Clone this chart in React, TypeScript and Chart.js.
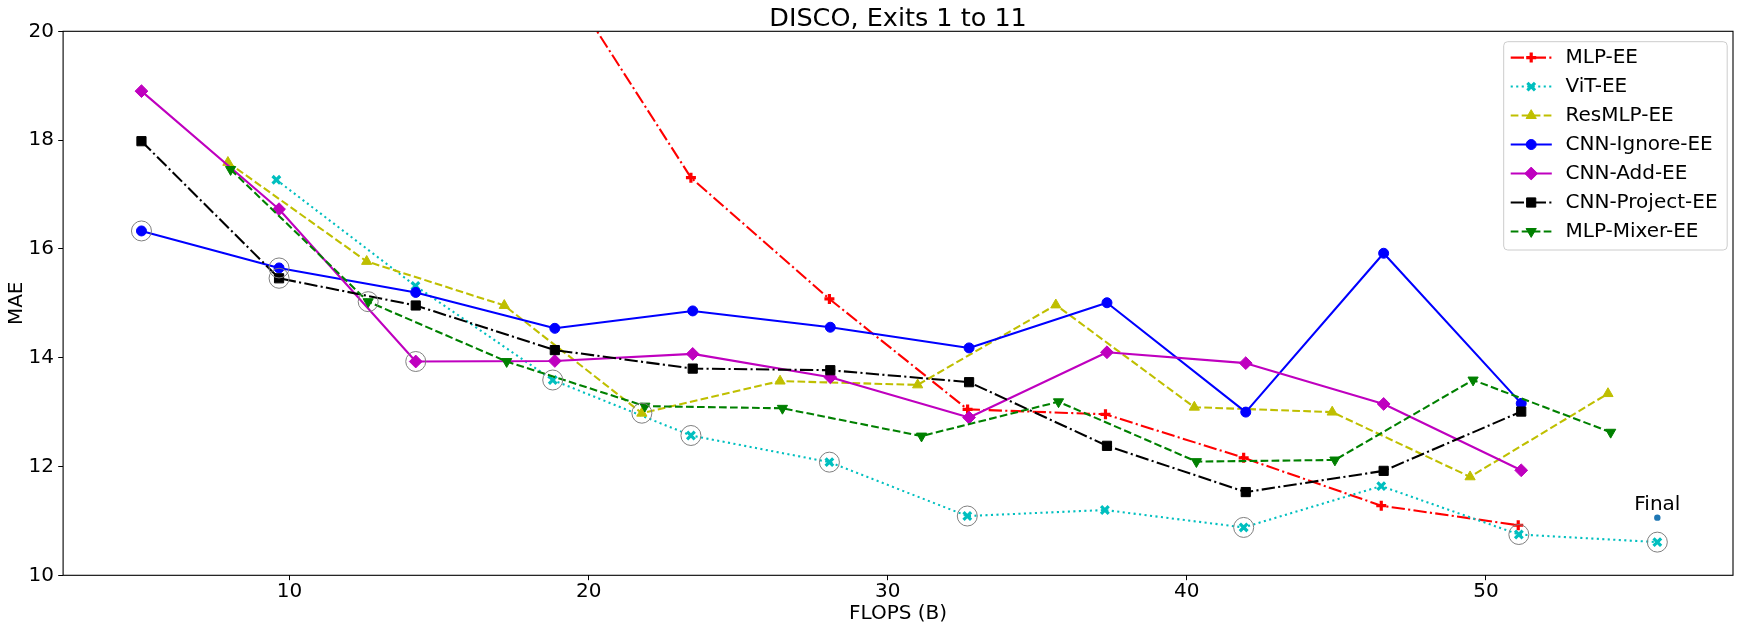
import React, { useEffect, useRef } from 'react';
import { Chart, registerables } from 'chart.js';
import { drawPoint } from 'chart.js/helpers';

Chart.register(...registerables);

const TITLE = 'DISCO, Exits 1 to 11';
const X_LABEL = 'FLOPS (B)';
const Y_LABEL = 'MAE';
const FINAL_LABEL = 'Final';
const X_TICKS = [10, 20, 30, 40, 50];
const Y_TICKS = [10, 12, 14, 16, 18, 20];
const X_MIN = 2.43;
const X_MAX = 58.26;
const Y_MIN = 10;
const Y_MAX = 20;

const SERIES_NAMES = ['MLP-EE', 'ViT-EE', 'ResMLP-EE', 'CNN-Ignore-EE', 'CNN-Add-EE', 'CNN-Project-EE', 'MLP-Mixer-EE'];

const mlpEeX = [18.8, 23.42, 28.05, 32.67, 37.28, 41.9, 46.5, 51.08];
const mlpEeY = [21.27, 17.31, 15.08, 13.05, 12.96, 12.16, 11.28, 10.92];

const vitEeX = [9.56, 14.21, 18.8, 23.42, 28.05, 32.66, 37.26, 41.9, 46.5, 51.1, 55.73];
const vitEeY = [17.27, 15.32, 13.59, 12.57, 12.08, 11.09, 11.2, 10.88, 11.64, 10.75, 10.61];

const resMlpX = [7.94, 12.58, 17.18, 21.78, 26.4, 31.0, 35.62, 40.25, 44.86, 49.47, 54.08];
const resMlpY = [17.59, 15.77, 14.96, 12.98, 13.57, 13.5, 14.97, 13.09, 13.0, 11.81, 13.34];

const cnnX = [5.05, 9.65, 14.22, 18.87, 23.48, 28.08, 32.72, 37.33, 41.97, 46.58, 51.18];
const cnnIgnoreY = [16.33, 15.65, 15.2, 14.54, 14.86, 14.56, 14.18, 15.01, 13.0, 15.92, 13.16];
const cnnAddY = [18.9, 16.73, 13.93, 13.94, 14.07, 13.64, 12.9, 14.1, 13.9, 13.15, 11.93];
const cnnProjectY = [17.98, 15.46, 14.96, 14.14, 13.8, 13.77, 13.55, 12.38, 11.53, 11.92, 13.01];

const mixerX = [8.03, 12.63, 17.26, 21.88, 26.48, 31.13, 35.71, 40.32, 44.95, 49.57, 54.17];
const mixerY = [17.46, 15.03, 13.93, 13.11, 13.07, 12.56, 13.19, 12.09, 12.12, 13.59, 12.63];

const paretoX = [5.05, 9.65, 9.65, 12.63, 14.22, 18.8, 21.78, 23.42, 28.05, 32.66, 41.9, 51.1, 55.73];
const paretoY = [16.33, 15.65, 15.46, 15.03, 13.93, 13.59, 12.98, 12.57, 12.08, 11.09, 10.88, 10.75, 10.61];

const finalX = [55.73];
const finalY = [11.06];

const FONT = '"DejaVu Sans", "Liberation Sans", sans-serif';
const TXT = 20;
const LW = 2.08;
const DASHDOT = [13.3, 3.3, 2.1, 3.3];
const DASHED = [7.7, 3.3];
const DOTTED = [2.1, 3.4];

type Style = { color: string; dash: number[]; marker: string; r: number; rot: number; bw: number };

const STYLES: Style[] = [
  { color: '#ff0000', dash: DASHDOT, marker: 'cross', r: 5, rot: 0, bw: 3.2 },
  { color: '#00bfbf', dash: DOTTED, marker: 'crossRot', r: 5.4, rot: 0, bw: 3.2 },
  { color: '#bfbf00', dash: DASHED, marker: 'triangle', r: 5.9, rot: 0, bw: 1 },
  { color: '#0000ff', dash: [], marker: 'circle', r: 5, rot: 0, bw: 1 },
  { color: '#bf00bf', dash: [], marker: 'rectRot', r: 6.4, rot: 0, bw: 1 },
  { color: '#000000', dash: DASHDOT, marker: 'rect', r: 6.5, rot: 0, bw: 1 },
  { color: '#008000', dash: DASHED, marker: 'triangle', r: 5.9, rot: 180, bw: 1 },
];

const SERIES_X = [mlpEeX, vitEeX, resMlpX, cnnX, cnnX, cnnX, mixerX];
const SERIES_Y = [mlpEeY, vitEeY, resMlpY, cnnIgnoreY, cnnAddY, cnnProjectY, mixerY];

const toPts = (xs: number[], ys: number[]) => xs.map((x, i) => ({ x, y: ys[i] }));

const overlayPlugin = {
  id: 'overlay',
  afterDraw(chart: any) {
    const ctx: CanvasRenderingContext2D = chart.ctx;
    const a = chart.chartArea;
    ctx.save();
    ctx.setLineDash([]);
    ctx.strokeStyle = '#000';
    ctx.lineWidth = 1.1;
    ctx.strokeRect(a.left, a.top, a.right - a.left, a.bottom - a.top);

    ctx.fillStyle = '#000';
    ctx.font = `25.5px ${FONT}`;
    ctx.textAlign = 'center';
    ctx.textBaseline = 'alphabetic';
    ctx.fillText(TITLE, (a.left + a.right) / 2, 26);

    const xs = chart.scales.x;
    const ys = chart.scales.y;
    const fx = xs.getPixelForValue(finalX[0]);
    const fy = ys.getPixelForValue(finalY[0]);
    ctx.font = `${TXT}px ${FONT}`;
    ctx.fillText(FINAL_LABEL, fx, fy - 7.7);

    const bx = 1503.7, by = 41.7, bw = 223.5, bh = 208.3, rr = 4;
    ctx.beginPath();
    ctx.moveTo(bx + rr, by);
    ctx.lineTo(bx + bw - rr, by);
    ctx.quadraticCurveTo(bx + bw, by, bx + bw, by + rr);
    ctx.lineTo(bx + bw, by + bh - rr);
    ctx.quadraticCurveTo(bx + bw, by + bh, bx + bw - rr, by + bh);
    ctx.lineTo(bx + rr, by + bh);
    ctx.quadraticCurveTo(bx, by + bh, bx, by + bh - rr);
    ctx.lineTo(bx, by + rr);
    ctx.quadraticCurveTo(bx, by, bx + rr, by);
    ctx.closePath();
    ctx.fillStyle = 'rgba(255,255,255,0.8)';
    ctx.fill();
    ctx.strokeStyle = '#cccccc';
    ctx.lineWidth = 1;
    ctx.stroke();

    SERIES_NAMES.forEach((name, i) => {
      const s = STYLES[i];
      const y = 57.6 + i * 28.98;
      ctx.save();
      ctx.strokeStyle = s.color;
      ctx.lineWidth = LW;
      ctx.setLineDash(s.dash);
      ctx.beginPath();
      ctx.moveTo(1510.7, y);
      ctx.lineTo(1551.8, y);
      ctx.stroke();
      ctx.setLineDash([]);
      ctx.fillStyle = s.color;
      ctx.strokeStyle = s.color;
      ctx.lineWidth = s.bw;
      drawPoint(ctx, { pointStyle: s.marker as any, radius: s.r, rotation: s.rot, borderWidth: s.bw }, 1531.2, y);
      ctx.restore();
      ctx.fillStyle = '#000';
      ctx.font = `${TXT}px ${FONT}`;
      ctx.textAlign = 'left';
      ctx.textBaseline = 'middle';
      ctx.fillText(name, 1565.5, y + 0.2);
    });
    ctx.restore();
  },
};

export default function App() {
  const ref = useRef<HTMLCanvasElement>(null);
  useEffect(() => {
    const canvas = ref.current!;
    const datasets: any[] = SERIES_NAMES.map((name, i) => {
      const s = STYLES[i];
      return {
        label: name,
        data: toPts(SERIES_X[i], SERIES_Y[i]),
        showLine: true,
        borderColor: s.color,
        backgroundColor: s.color,
        borderWidth: LW,
        borderDash: s.dash,
        borderJoinStyle: 'round',
        tension: 0,
        fill: false,
        pointStyle: s.marker,
        pointRadius: s.r,
        pointRotation: s.rot,
        pointBorderWidth: s.bw,
        pointBackgroundColor: s.color,
        pointBorderColor: s.color,
        order: 10 - i,
      };
    });
    datasets.push({
      label: 'pareto',
      data: toPts(paretoX, paretoY),
      showLine: false,
      pointStyle: 'circle',
      pointRadius: 10,
      pointBorderWidth: 1,
      pointBorderColor: '#7f7f7f',
      pointBackgroundColor: 'rgba(0,0,0,0)',
      order: 1,
    });
    datasets.push({
      label: 'final',
      data: toPts(finalX, finalY),
      showLine: false,
      pointStyle: 'circle',
      pointRadius: 3.2,
      pointBorderWidth: 0,
      pointBackgroundColor: '#1f77b4',
      pointBorderColor: '#1f77b4',
      order: 0,
    });

    const tickFont = { family: FONT, size: TXT };
    const chart = new Chart(canvas, {
      type: 'scatter',
      data: { datasets },
      options: {
        responsive: false,
        animation: false,
        devicePixelRatio: 1,
        events: [],
        layout: { padding: { top: 31.3, right: 7, left: 0, bottom: 0 } },
        plugins: {
          legend: { display: false },
          title: { display: false },
          tooltip: { enabled: false },
        },
        scales: {
          x: {
            type: 'linear',
            min: X_MIN,
            max: X_MAX,
            afterBuildTicks: (s: any) => {
              s.ticks = X_TICKS.map((v) => ({ value: v }));
            },
            afterFit: (s: any) => {
              s.height = 55.7;
            },
            ticks: {
              color: '#000',
              font: tickFont,
              padding: 0,
              maxRotation: 0,
              autoSkip: false,
              callback: (v: any) => String(v),
            },
            grid: { display: true, drawOnChartArea: false, drawTicks: true, tickLength: 4.9, color: '#000', lineWidth: 1 },
            border: { display: false },
            title: { display: true, text: X_LABEL, color: '#000', font: tickFont, padding: { top: 0, bottom: 4.8 } },
          },
          y: {
            type: 'linear',
            min: Y_MIN,
            max: Y_MAX,
            afterBuildTicks: (s: any) => {
              s.ticks = Y_TICKS.map((v) => ({ value: v }));
            },
            afterFit: (s: any) => {
              s.width = 63.1;
            },
            ticks: {
              color: '#000',
              font: tickFont,
              padding: 4.2,
              autoSkip: false,
              callback: (v: any) => String(v),
            },
            grid: { display: true, drawOnChartArea: false, drawTicks: true, tickLength: 4.9, color: '#000', lineWidth: 1 },
            border: { display: false },
            title: { display: true, text: Y_LABEL, color: '#000', font: tickFont, padding: { top: 5, bottom: 0 } },
          },
        },
      },
      plugins: [overlayPlugin],
    } as any);
    return () => chart.destroy();
  }, []);
  return (
    <div style={{ position: 'fixed', left: 0, top: 0, width: 1744, height: 631, background: '#fff' }}>
      <canvas ref={ref} width={1744} height={631} style={{ display: 'block' }} />
    </div>
  );
}
